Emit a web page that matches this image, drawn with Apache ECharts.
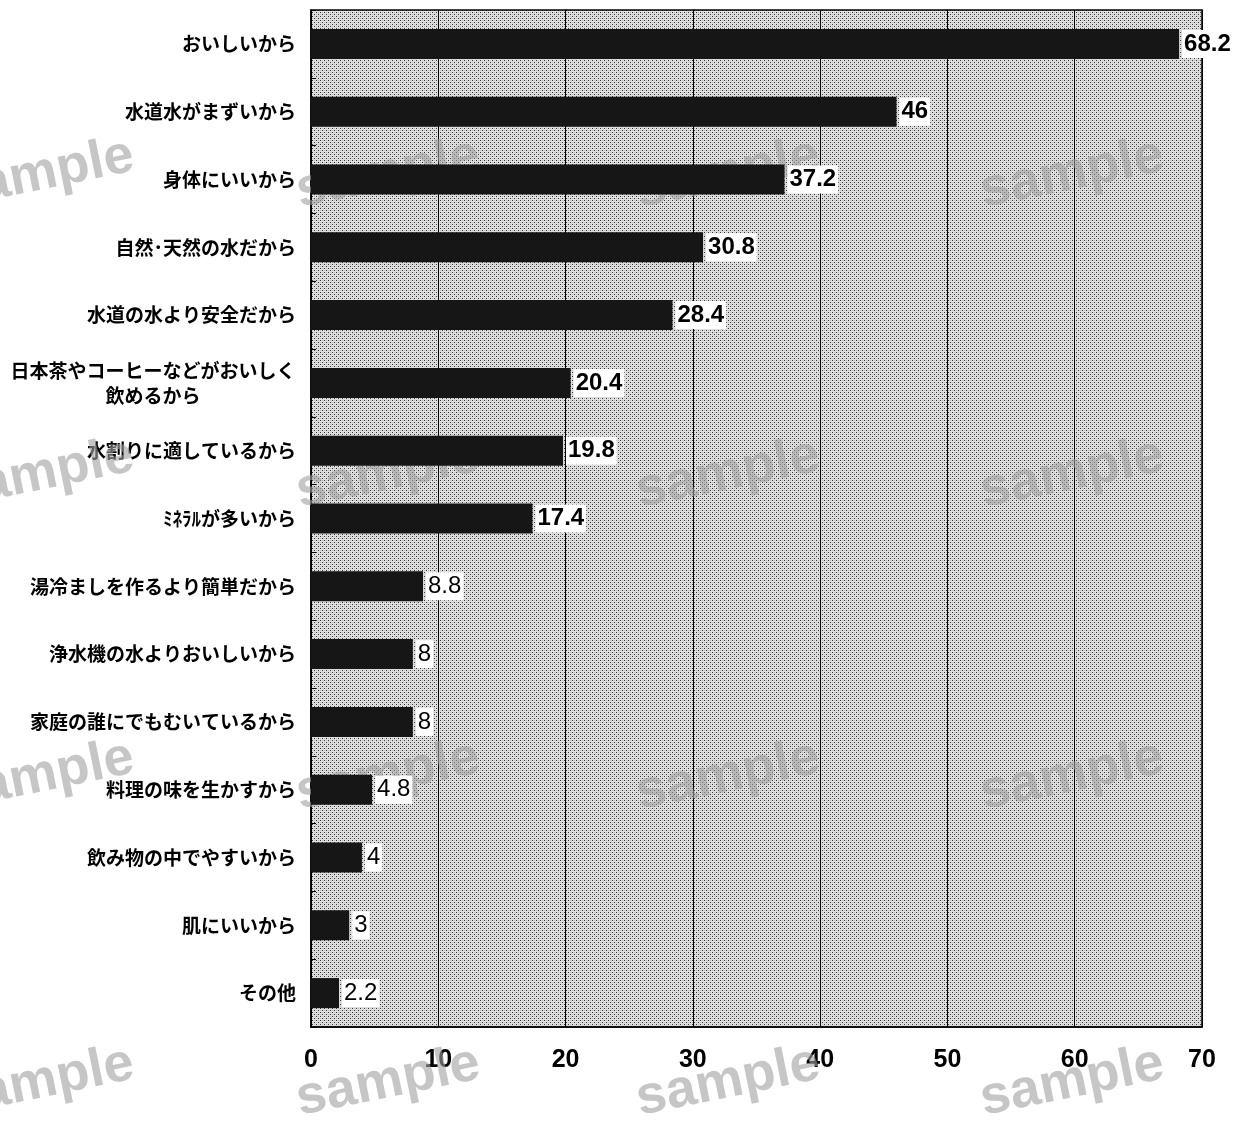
<!DOCTYPE html>
<html>
<head>
<meta charset="utf-8">
<script src="https://cdn.jsdelivr.net/npm/echarts@6/dist/echarts.min.js"></script>
<style>
html,body{margin:0;padding:0;background:#fff;}
#chart{width:1244px;height:1124px;}
</style>
</head>
<body>
<div id="chart"></div>
<script>
const categories = [
  'おいしいから',
  '水道水がまずいから',
  '身体にいいから',
  '自然･天然の水だから',
  '水道の水より安全だから',
  '日本茶やコーヒーなどがおいしく\n飲めるから',
  '水割りに適しているから',
  'ﾐﾈﾗﾙが多いから',
  '湯冷ましを作るより簡単だから',
  '浄水機の水よりおいしいから',
  '家庭の誰にでもむいているから',
  '料理の味を生かすから',
  '飲み物の中でやすいから',
  '肌にいいから',
  'その他'
];
const values = [68.2, 46, 37.2, 30.8, 28.4, 20.4, 19.8, 17.4, 8.8, 8, 8, 4.8, 4, 3, 2.2];
const xTicks = [0, 10, 20, 30, 40, 50, 60, 70];
const watermarkText = 'sample';

// dotted background pattern
const pc = document.createElement('canvas');
pc.width = 4; pc.height = 4;
const px = pc.getContext('2d');
px.fillStyle = '#dedede';
px.fillRect(0, 0, 4, 4);
px.fillStyle = '#3a3a3a';
px.fillRect(0, 0, 1, 1);
px.fillRect(2, 2, 1, 1);
px.fillStyle = '#bcbcbc';
px.fillRect(2, 0, 1, 1);
px.fillRect(0, 2, 1, 1);

const chart = echarts.init(document.getElementById('chart'), null, {renderer: 'canvas'});

const wmCols = [42, 388, 728, 1072];
const wmRows = [174, 476, 780, 1088];
const graphics = [];
wmRows.forEach(function (y, ri) {
  wmCols.forEach(function (x) {
    graphics.push({
      type: 'text',
      x: x, y: y - ri * 2,
      rotation: 0.2,
      z: 1,
      style: {
        text: watermarkText,
        fill: 'rgba(160,160,160,0.6)',
        font: 'bold 54px "Liberation Sans", Arial, sans-serif',
        align: 'center',
        verticalAlign: 'middle'
      }
    });
  });
});

const seriesData = values.map(function (v, i) {
  return {value: v, label: {fontWeight: i < 8 ? 'bold' : 'normal'}};
});

const option = {
  animation: false,
  backgroundColor: '#fff',
  grid: {
    left: 311, top: 10, right: 42, bottom: 97,
    show: true,
    backgroundColor: {image: pc, repeat: 'repeat'},
    borderColor: '#000',
    borderWidth: 1.5
  },
  graphic: graphics,
  xAxis: {
    type: 'value',
    min: xTicks[0],
    max: xTicks[xTicks.length - 1],
    interval: xTicks[1] - xTicks[0],
    axisLine: {show: true, lineStyle: {color: '#000', width: 1.5}},
    axisTick: {show: false},
    splitLine: {show: true, lineStyle: {color: '#000', width: 1}},
    axisLabel: {
      color: '#000',
      fontSize: 25,
      fontWeight: 'bold',
      fontFamily: '"Liberation Sans Narrow", "Liberation Sans", Arial, sans-serif',
      margin: 21
    }
  },
  yAxis: {
    type: 'category',
    inverse: true,
    data: categories,
    axisLine: {show: true, lineStyle: {color: '#000', width: 1.5}},
    axisTick: {show: true, inside: true, length: 5, lineStyle: {color: '#000'}},
    splitLine: {show: false},
    axisLabel: {
      color: '#000',
      fontSize: 19,
      fontWeight: 'bold',
      fontFamily: '"Noto Sans CJK JP", sans-serif',
      margin: 15,
      lineHeight: 25,
      formatter: function (v) {
        if (v.indexOf('\n') >= 0) {
          return v.split('\n').map(function (s) { return '{c|' + s + '}'; }).join('\n');
        }
        return v;
      },
      rich: {
        c: {
          width: 286, align: 'center', fontSize: 19, fontWeight: 'bold',
          fontFamily: '"Noto Sans CJK JP", sans-serif', color: '#000', lineHeight: 25
        }
      }
    }
  },
  series: [{
    type: 'bar',
    data: seriesData,
    barWidth: 30,
    z: 2,
    itemStyle: {color: '#161616'},
    label: {
      show: true,
      position: 'right',
      distance: 3,
      color: '#000',
      fontSize: 24,
      fontFamily: '"Liberation Sans", Arial, sans-serif',
      backgroundColor: '#fff',
      padding: [3, 2, 1, 2]
    }
  }]
};
chart.setOption(option);
</script>
</body>
</html>
